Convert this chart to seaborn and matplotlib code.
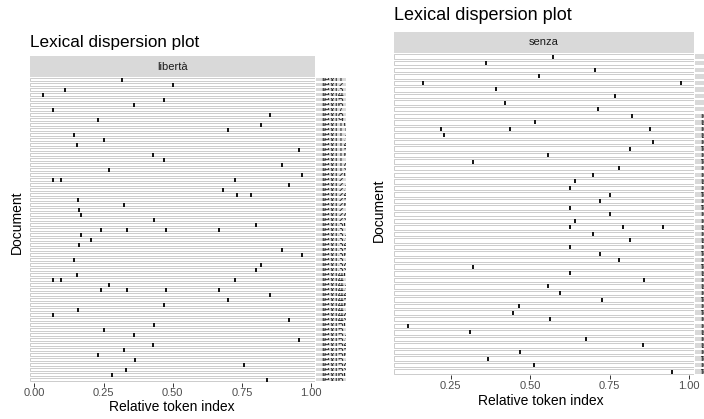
import matplotlib
matplotlib.use("Agg")
import matplotlib.pyplot as plt
import seaborn as sns
import pandas as pd
import numpy as np

sns.set_theme(style="white")
plt.rcParams['font.family'] = ['Liberation Sans', 'DejaVu Sans']

# ---------------- data ----------------
title = "Lexical dispersion plot"
x_label = "Relative token index"
y_label = "Document"

liberta_keyword = "libertà"
liberta_hits = [
    [0.317], [0.501], [0.112], [0.031], [0.470], [0.361], [0.066], [0.850],
    [0.231], [0.820], [0.700], [0.143], [0.251], [0.153], [0.957], [0.429],
    [0.467], [0.896], [0.270], [0.967], [0.066, 0.096, 0.726], [0.920],
    [0.682], [0.732, 0.783], [0.158], [0.323], [0.163], [0.167], [0.432],
    [0.800], [0.239, 0.334, 0.477, 0.666], [0.167], [0.206], [0.163], [0.896],
    [0.967], [0.143], [0.820], [0.800], [0.153], [0.066, 0.096, 0.726],
    [0.270], [0.239, 0.334, 0.477, 0.666], [0.850], [0.700], [0.467], [0.158],
    [0.066], [0.920], [0.432], [0.251], [0.361], [0.957], [0.429], [0.323],
    [0.231], [0.365], [0.757], [0.330], [0.282], [0.841],
]
liberta_docs = [f"text{i + 1}" for i in range(len(liberta_hits))]
liberta_ticks = [0.0, 0.25, 0.50, 0.75, 1.00]

senza_keyword = "senza"
senza_hits = [
    [0.570], [0.359], [0.705], [0.526], [0.163, 0.973], [0.392], [0.765],
    [0.421], [0.714], [0.821], [0.516], [0.218, 0.437, 0.875], [0.228],
    [0.885], [0.813], [0.556], [0.321], [0.778], [0.697], [0.641], [0.625],
    [0.750], [0.719], [0.625], [0.750], [0.641], [0.625, 0.791, 0.917],
    [0.697], [0.813], [0.625], [0.719], [0.778], [0.321], [0.625], [0.857],
    [0.556], [0.594], [0.727], [0.464], [0.444], [0.562], [0.114], [0.310],
    [0.676], [0.853], [0.469], [0.367], [0.510], [0.945],
]
senza_docs = [f"text{i + 1}" for i in range(len(senza_hits))]
senza_ticks = [0.25, 0.50, 0.75, 1.00]

# ---------------- layout helpers ----------------
W, H = 704, 419
fig = plt.figure(figsize=(W / 100, H / 100), dpi=100)


def add_ax(x0, y0, x1, y1):
    return fig.add_axes([x0 / W, 1 - y1 / H, (x1 - x0) / W, (y1 - y0) / H])


PANEL_EDGE = "#cccccc"
STRIP_FILL = "#d9d9d9"


def draw_side(hits, docs, keyword, ticks, plot_box, strip_x, header_box,
              title_xy, title_size, marker_s, marker_lw, row_h, xlab_xy, ylab_xy,
              strip_text_ha, strip_text_x):
    n = len(hits)
    df = pd.DataFrame({
        "doc": [docs[i] for i, h in enumerate(hits) for _ in h],
        "row": [i for i, h in enumerate(hits) for _ in h],
        "pos": [p for h in hits for p in h],
    })
    lo, hi = df["pos"].min(), df["pos"].max()
    pad = (hi - lo) * 0.05
    xmin, xmax = lo - pad, hi + pad

    x0, y0, x1, y1 = plot_box
    ax = add_ax(x0, y0, x1, y1)
    rows = np.arange(n)
    ax.barh(rows, width=xmax - xmin, left=xmin, height=row_h, color="white",
            edgecolor=PANEL_EDGE, linewidth=0.7, zorder=1)
    sns.scatterplot(data=df, x="pos", y="row", marker="|", s=marker_s,
                    color="black", linewidth=marker_lw, ax=ax, zorder=3,
                    legend=False)
    ax.set_xlim(xmin, xmax)
    ax.set_ylim(n - 0.5, -0.5)
    ax.set_xticks(ticks)
    ax.set_xticklabels([f"{t:.2f}" for t in ticks])
    ax.set_yticks([])
    ax.set_xlabel("")
    ax.set_ylabel("")
    for sp in ax.spines.values():
        sp.set_visible(False)
    ax.tick_params(axis="x", bottom=True, length=2.6, width=0.7,
                   color="#333333", labelsize=8, labelcolor="#4d4d4d", pad=1.5)
    ax.patch.set_alpha(0)

    # row strips on the right (labels clipped to each thin strip)
    sx0, sx1 = strip_x
    sax = add_ax(sx0, y0, sx1, y1)
    bars = sax.barh(rows, width=1, left=0, height=row_h, color=STRIP_FILL,
                    edgecolor="none", zorder=1)
    for i, (b, name) in enumerate(zip(bars, docs)):
        t = sax.text(strip_text_x, i, name, ha=strip_text_ha, va="center",
                     fontsize=7.5, color="#1a1a1a", zorder=2, clip_on=True)
        t.set_clip_path(b)
    sax.set_xlim(0, 1)
    sax.set_ylim(n - 0.5, -0.5)
    sax.set_xticks([])
    sax.set_yticks([])
    for sp in sax.spines.values():
        sp.set_visible(False)
    sax.patch.set_alpha(0)

    # column header strip
    hx0, hy0, hx1, hy1 = header_box
    hax = add_ax(hx0, hy0, hx1, hy1)
    hax.set_facecolor(STRIP_FILL)
    hax.set_xticks([])
    hax.set_yticks([])
    for sp in hax.spines.values():
        sp.set_visible(False)
    hax.text(0.5, 0.5, keyword, ha="center", va="center", fontsize=8,
             color="#1a1a1a", transform=hax.transAxes)

    tx, ty = title_xy
    fig.text(tx / W, 1 - ty / H, title, ha="left", va="center",
             fontsize=title_size, color="black")
    fig.text(xlab_xy[0] / W, 1 - xlab_xy[1] / H, x_label, ha="center",
             va="center", fontsize=10, color="black")
    fig.text(ylab_xy[0] / W, 1 - ylab_xy[1] / H, y_label, ha="center",
             va="center", rotation=90, fontsize=10, color="black")


# left: libertà
draw_side(liberta_hits, liberta_docs, liberta_keyword, liberta_ticks,
          plot_box=(30, 77.5, 315, 382.5), strip_x=(315.5, 346),
          header_box=(30, 56.5, 315, 77.5), title_xy=(30, 42.5), title_size=12.3,
          marker_s=5, marker_lw=1.3, row_h=0.6, xlab_xy=(172, 407),
          ylab_xy=(17, 222), strip_text_ha="left", strip_text_x=0.2)

# right: senza
draw_side(senza_hits, senza_docs, senza_keyword, senza_ticks,
          plot_box=(394, 53.4, 694.3, 375), strip_x=(694.6, 736),
          header_box=(394, 31.5, 694.3, 53.4), title_xy=(394, 16), title_size=13,
          marker_s=9, marker_lw=1.3, row_h=0.68, xlab_xy=(541, 401),
          ylab_xy=(379, 210), strip_text_ha="center", strip_text_x=0.5)

fig.savefig("out.png", dpi=100)
